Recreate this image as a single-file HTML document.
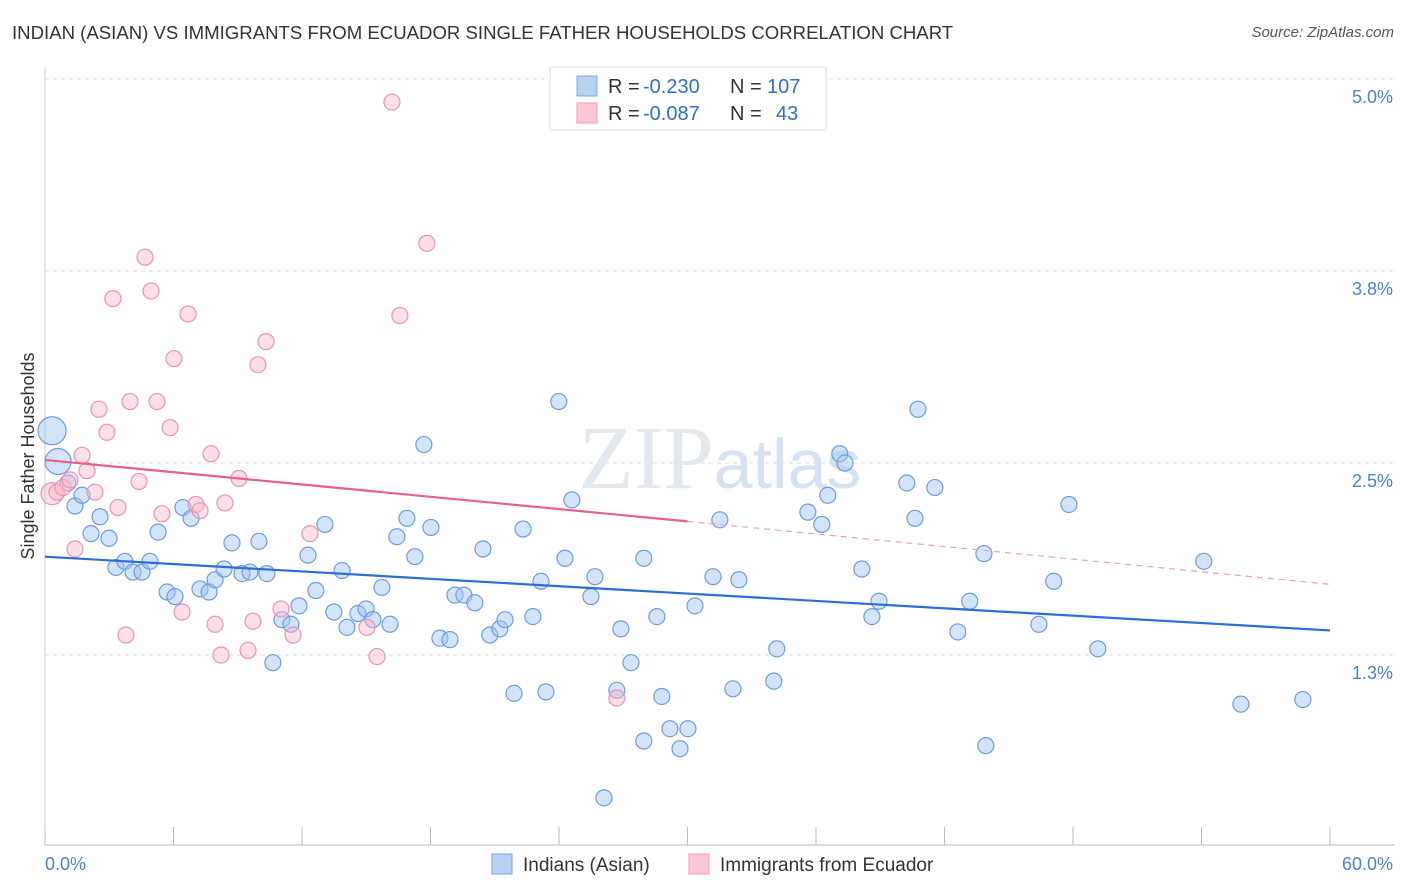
<!DOCTYPE html>
<html><head><meta charset="utf-8">
<style>
body{margin:0;background:#fff;font-family:"Liberation Sans",sans-serif;}
#wrap{position:relative;width:1406px;height:892px;overflow:hidden;}
.t{position:absolute;white-space:nowrap;}
</style></head>
<body>
<div id="wrap">
<div class="t" style="left:12px;top:22px;font-size:18.6px;color:#333;">INDIAN (ASIAN) VS IMMIGRANTS FROM ECUADOR SINGLE FATHER HOUSEHOLDS CORRELATION CHART</div>
<div class="t" style="right:12px;top:24px;font-size:15px;color:#555;font-style:italic;">Source: ZipAtlas.com</div>
<svg id="svg" width="1406" height="892" style="position:absolute;left:0;top:0"></svg>
</div>
<script>
const blueX=[0.33,0.61,1.07,1.4,1.73,2.15,2.57,2.99,3.31,3.73,4.11,4.53,4.9,5.28,5.7,6.07,6.44,6.82,7.24,7.66,7.94,8.36,8.73,9.2,9.57,9.99,10.36,10.64,11.06,11.48,11.86,12.28,12.65,13.07,13.49,13.87,14.1,14.61,14.99,15.31,15.73,16.11,16.43,16.9,17.27,17.69,18.02,18.44,18.91,19.14,19.56,20.07,20.45,20.77,21.24,21.48,21.9,22.32,22.78,23.16,23.39,23.99,24.28,24.6,25.49,25.68,26.1,26.7,26.89,27.36,27.96,27.96,28.57,28.8,29.18,29.65,30.02,30.35,31.19,31.51,32.12,32.4,34.03,34.17,35.62,36.27,36.55,37.11,37.35,38.14,38.61,38.94,40.24,40.62,40.76,41.55,42.62,43.18,43.84,43.93,46.41,47.1,47.81,49.16,54.11,55.84,58.73];
const blueY=[2.71,2.51,2.37,2.22,2.29,2.04,2.15,2.01,1.82,1.86,1.79,1.79,1.86,2.05,1.66,1.63,2.21,2.14,1.68,1.66,1.74,1.81,1.98,1.78,1.79,1.99,1.78,1.2,1.48,1.45,1.57,1.9,1.67,2.1,1.53,1.8,1.43,1.52,1.55,1.48,1.69,1.45,2.02,2.14,1.89,2.62,2.08,1.36,1.35,1.64,1.64,1.59,1.94,1.38,1.42,1.48,1.0,2.07,1.5,1.73,1.01,2.9,1.88,2.26,1.63,1.76,0.32,1.02,1.42,1.2,0.69,1.88,1.5,0.98,0.77,0.64,0.77,1.57,1.76,2.13,1.03,1.74,1.08,1.29,2.18,2.1,2.29,2.56,2.5,1.81,1.5,1.6,2.37,2.14,2.85,2.34,1.4,1.6,1.91,0.66,1.45,1.73,2.23,1.29,1.86,0.93,0.96];
const pinkX=[0.33,0.56,0.84,1.17,1.4,1.73,1.96,2.33,2.52,2.89,3.17,3.41,3.78,3.97,4.39,4.67,4.95,5.23,5.46,5.84,6.02,6.4,6.68,7.05,7.24,7.75,7.94,8.22,8.4,9.06,9.48,9.71,9.94,10.32,11.02,11.58,12.37,15.03,15.5,16.2,16.57,17.83,26.7];
const pinkY=[2.3,2.31,2.34,2.39,1.94,2.55,2.45,2.31,2.85,2.7,3.57,2.21,1.38,2.9,2.38,3.84,3.62,2.9,2.17,2.73,3.18,1.53,3.47,2.23,2.19,2.56,1.45,1.25,2.24,2.4,1.28,1.47,3.14,3.29,1.55,1.38,2.04,1.43,1.24,4.85,3.46,3.93,0.97];
const blueLine=[1.89,1.41];
const pinkLine=[2.52,2.12,1.71];
const yTicks=[5.0,3.75,2.5,1.25];
const yTickLabels=["5.0%","3.8%","2.5%","1.3%"];
const xTicks=[0,6,12,18,24,30,36,42,48,54,60];

const NS="http://www.w3.org/2000/svg";
const svg=document.getElementById('svg');
const X=v=>45+v*1285/60;
const Y=v=>463-(v-2.5)*153.6;
function mk(tag,attrs,parent){const e=document.createElementNS(NS,tag);for(const k in attrs)e.setAttribute(k,attrs[k]);(parent||svg).appendChild(e);return e;}

yTicks.forEach((t,i)=>{
  const g=mk('line',{x1:45,x2:1395,y1:Y(t),y2:Y(t),stroke:'#ddd','stroke-dasharray':'4,4'});
  
  
  const tx=mk('text',{x:1393,y:Y(t)+24,'text-anchor':'end','font-size':18,fill:'#4a7fd4','font-family':'Liberation Sans, sans-serif'});
  tx.textContent=yTickLabels[i];
  
  
});
const ax=mk('line',{x1:45,x2:1395,y1:845,y2:845,stroke:'#bbb'});


const ay=mk('line',{x1:45,x2:45,y1:68,y2:845,stroke:'#ccc'});


xTicks.forEach(t=>{
  const l=mk('line',{x1:X(t),x2:X(t),y1:827,y2:845,stroke:'#bbb'});
  
  
});
[['0.0%',45,'start'],['60.0%',1393,'end']].forEach(a=>{
  const tx=mk('text',{x:a[1],y:870,'text-anchor':a[2],'font-size':18,fill:'#4a7fd4','font-family':'Liberation Sans, sans-serif'});
  tx.textContent=a[0];
  
  
});
const yt=mk('text',{x:0,y:0,transform:'translate(34,456) rotate(-90)','text-anchor':'middle','font-size':18,fill:'#333','font-family':'Liberation Sans, sans-serif'});
yt.textContent='Single Father Households';


const wm=mk('text',{x:720,y:488,'text-anchor':'middle','font-size':90,fill:'#e3e8ef','font-family':'Liberation Serif, serif'});
wm.innerHTML='ZIP<tspan font-family="Liberation Sans, sans-serif" font-size="70" fill="#d5e2f4">atlas</tspan>';



blueX.forEach((x,i)=>{
  const r=i===0?14:(i===1?13:8);
  const c=mk('circle',{cx:X(x),cy:Y(blueY[i]),r:r,fill:'rgba(160,195,240,0.45)',stroke:'#6b9ce0','stroke-width':1.2});
  
  
});
pinkX.forEach((x,i)=>{
  const r=i===0?11:8;
  const c=mk('circle',{cx:X(x),cy:Y(pinkY[i]),r:r,fill:'rgba(248,185,205,0.45)',stroke:'#ea93b0','stroke-width':1.2});
  
  
});
const bl=mk('line',{x1:X(0),y1:Y(blueLine[0]),x2:X(60),y2:Y(blueLine[1]),stroke:'#2a6fd6','stroke-width':2.2});


const pl=mk('line',{x1:X(0),y1:Y(pinkLine[0]),x2:X(30),y2:Y(pinkLine[1]),stroke:'#e8608a','stroke-width':2.2});


const pd=mk('line',{x1:X(30),y1:Y(pinkLine[1]),x2:X(60),y2:Y(pinkLine[2]),stroke:'#e8a0b8','stroke-width':1.2,'stroke-dasharray':'6,5'});



// legend
const lg=mk('g',{});


mk('rect',{x:550,y:67,width:276,height:63,fill:'#fff',stroke:'#ddd'},lg);
[[86,'#b8d1f3','#7ea8e2','-0.230','107',767],[113,'#f9c7d5','#ec9bb5','-0.087','43',776]].forEach(r=>{
  mk('rect',{x:577,y:r[0]-10,width:20,height:20,fill:r[1],stroke:r[2]},lg);
  const parts=[[608,'R =','#333'],[643,r[3],'#2f6fd0'],[730,'N =','#333'],[r[5],r[4],'#2f6fd0']];
  parts.forEach(p=>{
    const t=mk('text',{x:p[0],y:r[0]+7,'font-size':20,fill:p[2],'font-family':'Liberation Sans, sans-serif'},lg);
    t.textContent=p[1];
    
    
  });
});
// bottom legend
[[492,'#b8d1f3','#7ea8e2','Indians (Asian)'],[689,'#f9c7d5','#ec9bb5','Immigrants from Ecuador']].forEach(r=>{
  const g=mk('g',{});
  
  
  mk('rect',{x:r[0],y:854,width:20,height:20,fill:r[1],stroke:r[2]},g);
  const t=mk('text',{x:r[0]+31,y:871,'font-size':19,fill:'#333','font-family':'Liberation Sans, sans-serif'},g);
  t.textContent=r[3];
});
</script>
</body></html>
